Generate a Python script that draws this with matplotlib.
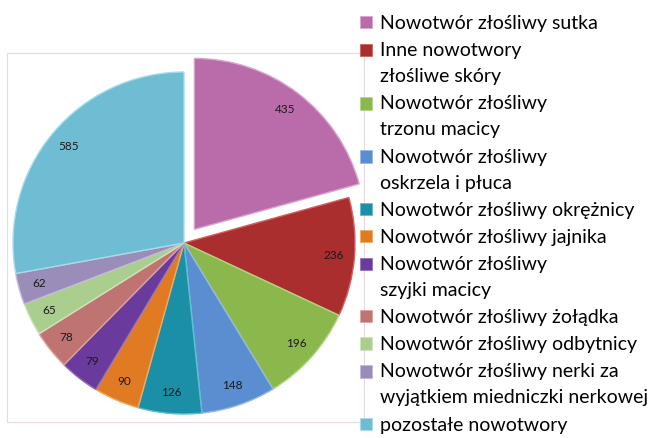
import matplotlib
matplotlib.use('Agg')
import matplotlib.pyplot as plt
from matplotlib.patches import Rectangle

plt.rcParams['font.family'] = ['Lato', 'DejaVu Sans']

labels = [
	'Nowotwór złośliwy sutka',
	'Inne nowotwory\nzłośliwe skóry',
	'Nowotwór złośliwy\ntrzonu macicy',
	'Nowotwór złośliwy\noskrzela i płuca',
	'Nowotwór złośliwy okrężnicy',
	'Nowotwór złośliwy jajnika',
	'Nowotwór złośliwy\nszyjki macicy',
	'Nowotwór złośliwy żołądka',
	'Nowotwór złośliwy odbytnicy',
	'Nowotwór złośliwy nerki za\nwyjątkiem miedniczki nerkowej',
	'pozostałe nowotwory',
]
values = [435, 236, 196, 148, 126, 90, 79, 78, 65, 62, 585]
colors = ['#B96CA9', '#AA2E2E', '#8AB84C', '#5A8ED0', '#1B8FA6', '#E07B24',
	'#6A3A9C', '#C07472', '#A9CE8E', '#9A8DB9', '#6FBDD3']
edges = ['#D9A6CF', '#D26060', '#B3D686', '#93B8E6', '#5CC0D2', '#F3A860',
	'#9270BC', '#DDA4A2', '#CDE6BA', '#C2B8D8', '#A6DCEA']


def main():
	fig = plt.figure(figsize=(6.62, 4.38), dpi=100)
	W, H = 662, 438
	cx, cy, r = 184, 243, 171

	# light frame around the plot area
	fig.patches.append(Rectangle((7 / W, 1 - 422 / H), 357 / W, 369 / H,
		transform=fig.transFigure, fill=False, edgecolor='#EADADE', linewidth=0.8))

	ax = fig.add_axes([(cx - r) / W, (H - cy - r) / H, 2 * r / W, 2 * r / H])
	explode = [0.1] + [0] * (len(values) - 1)
	wedges, texts = ax.pie(values, colors=colors, startangle=90, counterclock=False,
		explode=explode, labels=[str(v) for v in values], labeldistance=0.88,
		wedgeprops=dict(linewidth=1.0), textprops=dict(fontsize=8.5, color='#1a1a1a'))
	for w, e in zip(wedges, edges):
		w.set_edgecolor(e)
		w.set_clip_on(False)
	for t in texts:
		t.set_horizontalalignment('center')
		t.set_verticalalignment('center')
	ax.set_xlim(-1, 1)
	ax.set_ylim(-1, 1)
	ax.set_aspect('equal')
	ax.axis('off')

	leg = fig.legend(wedges, labels, loc='upper left', bbox_to_anchor=(360 / W, 1 - 15 / H),
		frameon=False, fontsize=14, handlelength=0.6, handleheight=0.6,
		handletextpad=0.45, labelspacing=0.52, borderaxespad=0, borderpad=0)
	for t in leg.get_texts():
		t.set_linespacing(1.65)
	# put the colour box next to the first line of a wrapped label
	for h, lab in zip(leg.legend_handles, labels):
		h.set_linewidth(0.6)
		n = lab.count('\n')
		if n:
			h.set_y(h.get_y() + n * 9.8)

	fig.savefig('out.png', dpi=100)


if __name__ == '__main__':
	main()
